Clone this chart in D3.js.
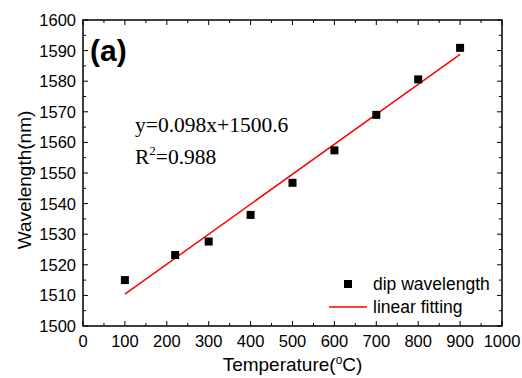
<!DOCTYPE html>
<html><head><meta charset="utf-8">
<script src="https://cdn.jsdelivr.net/npm/d3@7"></script>
<style>body{margin:0;background:#fff}svg{display:block}</style>
</head><body>
<script>
const temperature = [100, 220, 300, 400, 500, 600, 700, 800, 900];
const dipWavelength = [1515.0, 1523.2, 1527.6, 1536.3, 1546.8, 1557.4, 1569.0, 1580.6, 1590.9];
const fitX = [100, 900];
const fitY = [1510.4, 1588.8];
const xTicks = [0,100,200,300,400,500,600,700,800,900,1000];
const yTicks = [1500,1510,1520,1530,1540,1550,1560,1570,1580,1590,1600];

const W = 522, H = 378;
const m = {l:83, r:20, t:20, b:52};
const svg = d3.select("body").append("svg").attr("width", W).attr("height", H);
const x = d3.scaleLinear().domain([0,1000]).range([m.l, W-m.r]);
const y = d3.scaleLinear().domain([1500,1600]).range([H-m.b, m.t]);
const font = "Liberation Sans, Arial, sans-serif";

const xMinor = d3.range(50, 1000, 100);
const yMinor = d3.range(1505, 1600, 10);

function ticks(g, scale, vals, len, orient) {
  vals.forEach(v => {
    const p = scale(v);
    if (orient === "bottom") g.append("line").attr("x1",p).attr("x2",p).attr("y1",H-m.b).attr("y2",H-m.b-len);
    if (orient === "top") g.append("line").attr("x1",p).attr("x2",p).attr("y1",m.t).attr("y2",m.t+len);
    if (orient === "left") g.append("line").attr("y1",p).attr("y2",p).attr("x1",m.l).attr("x2",m.l+len);
    if (orient === "right") g.append("line").attr("y1",p).attr("y2",p).attr("x1",W-m.r).attr("x2",W-m.r-len);
  });
}
const tg = svg.append("g").attr("stroke","#000").attr("stroke-width",1);
ticks(tg, x, xTicks, 5, "bottom"); ticks(tg, x, xMinor, 3, "bottom");
ticks(tg, x, xTicks, 5, "top"); ticks(tg, x, xMinor, 3, "top");
ticks(tg, y, yTicks, 5, "left"); ticks(tg, y, yMinor, 3, "left");
ticks(tg, y, yTicks, 5, "right"); ticks(tg, y, yMinor, 3, "right");

svg.append("rect").attr("x",m.l).attr("y",m.t).attr("width",W-m.l-m.r).attr("height",H-m.t-m.b)
  .attr("fill","none").attr("stroke","#000").attr("stroke-width",1.5);

// tick labels
svg.append("g").selectAll("text").data(xTicks).join("text")
  .attr("x", d=>x(d)).attr("y", H-m.b+21).attr("text-anchor","middle")
  .attr("font-family",font).attr("font-size",16.5).text(d=>d);
svg.append("g").selectAll("text").data(yTicks).join("text")
  .attr("x", m.l-7).attr("y", d=>y(d)+6).attr("text-anchor","end")
  .attr("font-family",font).attr("font-size",16.5).text(d=>d);

// axis titles
const xt = svg.append("text").attr("x",(m.l+W-m.r)/2).attr("y",H-7).attr("text-anchor","middle")
  .attr("font-family",font).attr("font-size",19);
xt.append("tspan").text("Temperature(");
xt.append("tspan").attr("dy",-7).attr("font-size",12).text("o");
xt.append("tspan").attr("dy",7).text("C)");
svg.append("text").attr("transform",`translate(31,180) rotate(-90)`).attr("text-anchor","middle")
  .attr("font-family",font).attr("font-size",19).text("Wavelength(nm)");

// fit line
svg.append("line").attr("x1",x(fitX[0])).attr("y1",y(fitY[0])).attr("x2",x(fitX[1])).attr("y2",y(fitY[1]))
  .attr("stroke","#ff0000").attr("stroke-width",1.5);

// points
const s = 8;
svg.append("g").selectAll("rect").data(temperature).join("rect")
  .attr("x",(d)=>x(d)-s/2).attr("y",(d,i)=>y(dipWavelength[i])-s/2).attr("width",s).attr("height",s).attr("fill","#000");

// panel label
svg.append("text").attr("x",90).attr("y",61).attr("font-family",font).attr("font-weight","bold")
  .attr("font-size",30).text("(a)");

// equation
const serif = "Liberation Serif, Times New Roman, serif";
svg.append("text").attr("x",135).attr("y",132).attr("font-family",serif).attr("font-size",21.5).text("y=0.098x+1500.6");
const r2 = svg.append("text").attr("x",135).attr("y",164).attr("font-family",serif).attr("font-size",21.5);
r2.append("tspan").text("R");
r2.append("tspan").attr("dy",-9).attr("font-size",13).text("2");
r2.append("tspan").attr("dy",9).text("=0.988");

// legend
svg.append("rect").attr("x",348-s/2).attr("y",284-s/2).attr("width",s).attr("height",s).attr("fill","#000");
svg.append("text").attr("x",373).attr("y",290).attr("font-family",font).attr("font-size",17.5).text("dip wavelength");
svg.append("line").attr("x1",329).attr("x2",367).attr("y1",307).attr("y2",307).attr("stroke","#ff0000").attr("stroke-width",1.5);
svg.append("text").attr("x",373).attr("y",313).attr("font-family",font).attr("font-size",17.5).text("linear fitting");
</script>
</body></html>
